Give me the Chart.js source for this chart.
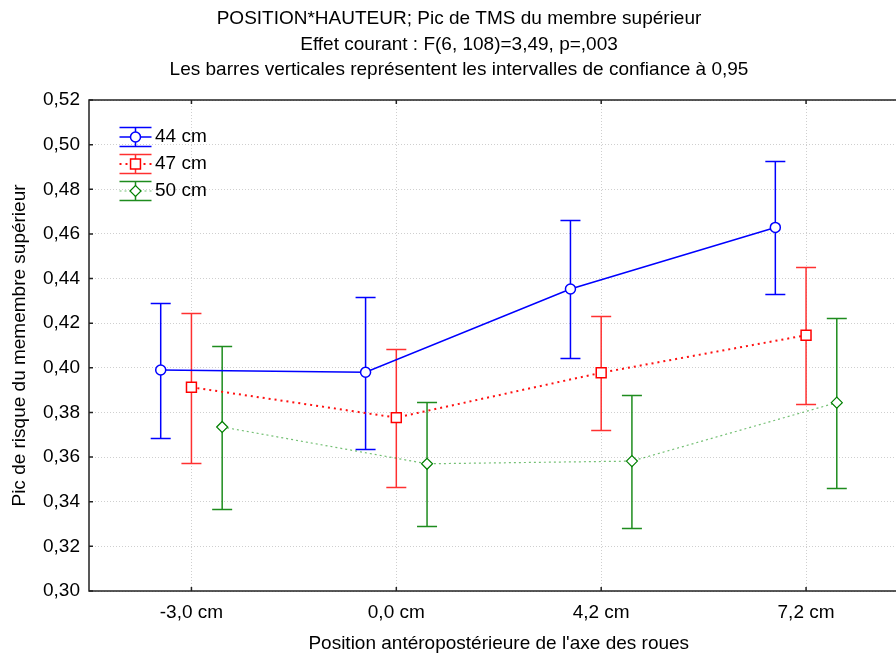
<!DOCTYPE html>
<html>
<head>
<meta charset="utf-8">
<script src="https://cdn.jsdelivr.net/npm/chart.js@4.4.1/dist/chart.umd.min.js"></script>
<style>
html, body { margin: 0; padding: 0; overflow: hidden; background: #fff; }
#wrap { width: 917px; height: 655px; }
</style>
</head>
<body>
<div id="wrap"><canvas id="chart" width="917" height="655"></canvas></div>
<script>
const titleLines = [
    'POSITION*HAUTEUR; Pic de TMS du membre supérieur',
    'Effet courant : F(6, 108)=3,49, p=,003',
    'Les barres verticales représentent les intervalles de confiance à 0,95',
];
const categories = ['-3,0 cm', '0,0 cm', '4,2 cm', '7,2 cm'];
const seriesNames = ['44 cm', '47 cm', '50 cm'];
const yTicks = [0.30, 0.32, 0.34, 0.36, 0.38, 0.40, 0.42, 0.44, 0.46, 0.48, 0.50, 0.52];

// moyennes et intervalles de confiance à 0,95
const mean44 = [0.399, 0.398, 0.4353, 0.4629];
const low44 = [0.3687, 0.3638, 0.4044, 0.4332];
const high44 = [0.429, 0.4319, 0.4662, 0.4928];

const mean47 = [0.3913, 0.3777, 0.3978, 0.4146];
const low47 = [0.3575, 0.3465, 0.372, 0.3838];
const high47 = [0.4247, 0.4084, 0.4233, 0.4452];

const mean50 = [0.3735, 0.357, 0.3582, 0.3844];
const low50 = [0.3369, 0.3291, 0.3282, 0.3461];
const high50 = [0.4099, 0.3848, 0.3878, 0.4223];

const FONT = '"Liberation Sans", Arial, sans-serif';
const offsets = [-0.15, 0, 0.15];

function points(means, k) {
    return means.map(function(v, i) { return { x: i + offsets[k], y: v }; });
}

const errorBars = {
    id: 'errorBars',
    beforeDatasetsDraw(chart) {
        const ctx = chart.ctx, y = chart.scales.y;
        chart.data.datasets.forEach(function(ds, i) {
            const meta = chart.getDatasetMeta(i);
            ctx.save();
            ctx.strokeStyle = ds.barColor;
            ctx.lineWidth = 1.5;
            meta.data.forEach(function(pt, j) {
                const top = Math.round(y.getPixelForValue(ds.high[j])) + 0.5;
                const bot = Math.round(y.getPixelForValue(ds.low[j])) + 0.5;
                ctx.beginPath();
                ctx.moveTo(pt.x, top); ctx.lineTo(pt.x, bot);
                ctx.moveTo(pt.x - 10, top); ctx.lineTo(pt.x + 10, top);
                ctx.moveTo(pt.x - 10, bot); ctx.lineTo(pt.x + 10, bot);
                ctx.stroke();
            });
            ctx.restore();
        });
    },
};

const frame = {
    id: 'frame',
    afterDatasetsDraw(chart) {
        const ctx = chart.ctx, a = chart.chartArea;
        ctx.save();
        ctx.strokeStyle = '#222';
        ctx.lineWidth = 1.5;
        ctx.strokeRect(a.left, a.top, a.right - a.left, a.bottom - a.top);
        ctx.beginPath();
        chart.scales.x.ticks.forEach(function(t) {
            const px = chart.scales.x.getPixelForValue(t.value);
            ctx.moveTo(px, a.bottom); ctx.lineTo(px, a.bottom - 4);
            ctx.moveTo(px, a.top); ctx.lineTo(px, a.top + 4);
        });
        chart.scales.y.ticks.forEach(function(t) {
            const py = chart.scales.y.getPixelForValue(t.value);
            ctx.moveTo(a.left, py); ctx.lineTo(a.left + 4, py);
        });
        ctx.stroke();
        ctx.restore();
    },
};

const titles = {
    id: 'titles',
    afterDraw(chart) {
        const ctx = chart.ctx;
        ctx.save();
        ctx.fillStyle = '#000';
        ctx.font = '19px ' + FONT;
        ctx.textAlign = 'center';
        ctx.textBaseline = 'middle';
        titleLines.forEach(function(t, i) { ctx.fillText(t, 459, 19 + i * 25.5); });
        ctx.restore();
    },
};

const legendBox = {
    id: 'legendBox',
    afterDraw(chart) {
        const ctx = chart.ctx;
        chart.data.datasets.forEach(function(ds, i) {
            const cx = 135.5, cy = 137 + i * 27;
            ctx.save();
            ctx.strokeStyle = ds.barColor;
            ctx.lineWidth = 1.5;
            ctx.beginPath();
            ctx.moveTo(cx, cy - 9.5); ctx.lineTo(cx, cy + 9.5);
            ctx.moveTo(cx - 16, cy - 9.5); ctx.lineTo(cx + 16, cy - 9.5);
            ctx.moveTo(cx - 16, cy + 9.5); ctx.lineTo(cx + 16, cy + 9.5);
            ctx.stroke();
            ctx.strokeStyle = ds.borderColor;
            ctx.lineWidth = ds.borderWidth;
            ctx.setLineDash(ds.borderDash || []);
            ctx.beginPath();
            ctx.moveTo(cx - 16, cy); ctx.lineTo(cx + 16, cy);
            ctx.stroke();
            ctx.setLineDash([]);
            ctx.fillStyle = '#fff';
            ctx.strokeStyle = ds.pointBorderColor;
            ctx.lineWidth = ds.pointBorderWidth;
            Chart.helpers.drawPoint(ctx, { pointStyle: ds.pointStyle, radius: ds.pointRadius, borderWidth: ds.pointBorderWidth, rotation: 0 }, cx, cy);
            ctx.fillStyle = '#000';
            ctx.font = '19px ' + FONT;
            ctx.textAlign = 'left';
            ctx.textBaseline = 'middle';
            ctx.fillText(ds.label, 155, cy);
            ctx.restore();
        });
    },
};

new Chart(document.getElementById('chart'), {
    type: 'line',
    data: {
        datasets: [
            {
                label: seriesNames[0], data: points(mean44, 0), low: low44, high: high44,
                borderColor: '#0000ff', borderWidth: 1.5, barColor: '#0000ff',
                pointStyle: 'circle', pointRadius: 5, pointBorderWidth: 1.5,
                pointBorderColor: '#0000ff', pointBackgroundColor: '#fff',
            },
            {
                label: seriesNames[1], data: points(mean47, 1), low: low47, high: high47,
                borderColor: '#ff1010', borderWidth: 2, borderDash: [2, 4], barColor: '#ff3030',
                pointStyle: 'rect', pointRadius: 7, pointBorderWidth: 1.5,
                pointBorderColor: '#ff0000', pointBackgroundColor: '#fff',
            },
            {
                label: seriesNames[2], data: points(mean50, 2), low: low50, high: high50,
                borderColor: 'rgba(0,140,0,0.55)', borderWidth: 1.2, borderDash: [2, 3], barColor: '#1e8c1e',
                pointStyle: 'rectRot', pointRadius: 5.5, pointBorderWidth: 1.2,
                pointBorderColor: '#008000', pointBackgroundColor: '#fff',
            },
        ],
    },
    options: {
        responsive: false,
        animation: false,
        layout: { padding: { top: 100, right: 3, left: 0, bottom: 0 } },
        plugins: { legend: { display: false }, tooltip: { enabled: false } },
        elements: { line: { tension: 0 } },
        scales: {
            x: {
                type: 'linear', min: -0.5, max: 3.5,
                afterBuildTicks: function(scale) { scale.ticks = categories.map(function(c, i) { return { value: i }; }); },
                afterFit: function(scale) { scale.height = 64; },
                ticks: { color: '#000', font: { family: FONT, size: 19 }, padding: 10, maxRotation: 0, autoSkip: false,
                    callback: function(v) { return categories[v]; } },
                grid: { color: '#cfcfcf', drawTicks: false },
                border: { display: false, dash: [1, 2] },
                title: { display: true, text: "Position antéropostérieure de l'axe des roues", color: '#000',
                    font: { family: FONT, size: 19 }, padding: { top: 0, bottom: 0 } },
            },
            y: {
                min: 0.30, max: 0.52,
                afterBuildTicks: function(scale) { scale.ticks = yTicks.map(function(v) { return { value: v }; }); },
                afterFit: function(scale) { scale.width = 89; },
                ticks: { color: '#000', font: { family: FONT, size: 19 }, padding: 9,
                    callback: function(v) { return v.toFixed(2).replace('.', ','); } },
                grid: { color: '#cfcfcf', drawTicks: false },
                border: { display: false, dash: [1, 2] },
                title: { display: true, text: 'Pic de risque du memembre supérieur', color: '#000',
                    font: { family: FONT, size: 19 }, padding: { top: 8, bottom: 0 } },
            },
        },
    },
    plugins: [errorBars, frame, titles, legendBox],
});
</script>
</body>
</html>
